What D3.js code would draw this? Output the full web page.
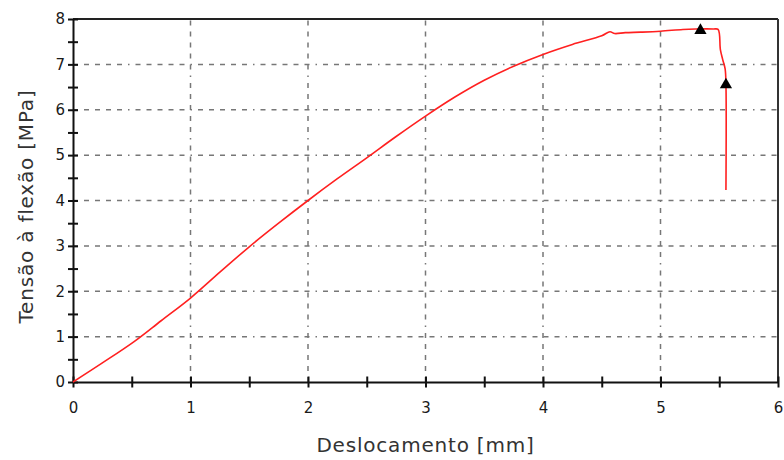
<!DOCTYPE html>
<html>
<head>
<meta charset="utf-8">
<script src="https://cdn.jsdelivr.net/npm/d3@7"></script>
<style>
  body { margin: 0; background: #fff; }
  text { font-family: "DejaVu Sans", Verdana, sans-serif; }
</style>
</head>
<body>
<svg id="chart"></svg>
<script>
// curve: displacement [mm] vs flexural stress [MPa]
const deslocamento = [0, 0.25, 0.52, 0.75, 1.0, 1.25, 1.5, 1.75, 2.0, 2.25, 2.5, 2.75, 3.0, 3.25, 3.5, 3.75,
    4.0, 4.25, 4.5, 4.57, 4.61, 4.7, 4.83, 5.0, 5.19, 5.3, 5.45, 5.49, 5.51, 5.53, 5.55, 5.557, 5.557];
const tensao = [0, 0.42, 0.89, 1.35, 1.85, 2.42, 2.98, 3.5, 4.0, 4.48, 4.94, 5.41, 5.86, 6.28, 6.65, 6.96,
    7.22, 7.44, 7.63, 7.72, 7.68, 7.70, 7.71, 7.73, 7.77, 7.78, 7.78, 7.77, 7.32, 7.10, 6.9, 6.55, 4.23];

// triangle markers
const markerX = [5.34, 5.557];
const markerY = [7.75, 6.55];

const xTicks = [0, 1, 2, 3, 4, 5, 6];
const yTicks = [0, 1, 2, 3, 4, 5, 6, 7, 8];
const xMinor = [0.5, 1.5, 2.5, 3.5, 4.5, 5.5];
const yMinor = [0.5, 1.5, 2.5, 3.5, 4.5, 5.5, 6.5, 7.5];

const xTitle = "Deslocamento [mm]";
const yTitle = "Tensão à flexão [MPa]";

let margin = { top: 19, right: 6, bottom: 78, left: 73 },
    width = 784 - margin.left - margin.right,
    height = 460 - margin.top - margin.bottom;

let svg = d3.select("#chart")
    .attr("width", 784)
    .attr("height", 460);

let g = svg.append("g")
    .attr("transform", "translate(" + margin.left + "," + margin.top + ")");

let xScale = d3.scaleLinear().domain([0, 6]).range([0, width]);
let yScale = d3.scaleLinear().domain([0, 8]).range([height, 0]);

const dash = "5,6,5,6,5,6,5,6,5,6,1.5,6";

// grid
g.append("g").selectAll("line")
    .data(yTicks.slice(1, -1))
    .enter().append("line")
    .attr("x1", 0).attr("x2", width)
    .attr("y1", d => yScale(d)).attr("y2", d => yScale(d))
    .attr("stroke", "#777").attr("stroke-width", 1.5)
    .attr("stroke-dasharray", dash);

g.append("g").selectAll("line")
    .data(xTicks.slice(1, -1))
    .enter().append("line")
    .attr("y1", height).attr("y2", 0)
    .attr("x1", d => xScale(d)).attr("x2", d => xScale(d))
    .attr("stroke", "#777").attr("stroke-width", 1.5)
    .attr("stroke-dasharray", dash);

// frame top / right
g.append("line").attr("x1", 0).attr("x2", width).attr("y1", 0).attr("y2", 0)
    .attr("stroke", "#222").attr("stroke-width", 2);
g.append("line").attr("x1", width).attr("x2", width).attr("y1", 0).attr("y2", height)
    .attr("stroke", "#333").attr("stroke-width", 2);

// axes: ticks cross the line on both sides
function styleAxis(sel) {
    sel.select(".domain").attr("stroke", "#111").attr("stroke-width", 2);
    sel.selectAll(".tick line").attr("stroke", "#111").attr("stroke-width", 2);
}

let xAxis = g.append("g")
    .attr("transform", "translate(0," + height + ")")
    .call(d3.axisBottom(xScale).tickValues(xTicks.concat(xMinor)).tickSizeInner(5.5).tickSizeOuter(0)
        .tickFormat(d => Number.isInteger(d) ? d : ""));
xAxis.selectAll(".tick line").attr("y1", -5.5);
xAxis.selectAll(".tick text").attr("y", 20).attr("font-size", 15).attr("fill", "#1a1a1a")
    .attr("font-family", "DejaVu Sans");
styleAxis(xAxis);

let yAxis = g.append("g")
    .call(d3.axisLeft(yScale).tickValues(yTicks.concat(yMinor)).tickSizeInner(5).tickSizeOuter(0)
        .tickFormat(d => Number.isInteger(d) ? d : ""));
yAxis.selectAll(".tick line").attr("x1", 5);
yAxis.selectAll(".tick text").attr("x", -8).attr("font-size", 15).attr("fill", "#1a1a1a")
    .attr("font-family", "DejaVu Sans");
styleAxis(yAxis);

// titles
g.append("text")
    .attr("x", width / 2).attr("y", height + 70)
    .attr("text-anchor", "middle")
    .attr("font-size", 20).attr("letter-spacing", 0.8).attr("fill", "#333")
    .text(xTitle);

g.append("text")
    .attr("transform", "translate(" + (-40) + "," + (height / 2 + 6) + ") rotate(-90)")
    .attr("text-anchor", "middle")
    .attr("font-size", 20).attr("letter-spacing", 0.8).attr("fill", "#333")
    .text(yTitle);

// curve
const pts = deslocamento.map((d, i) => [d, tensao[i]]);
g.append("path")
    .datum(pts)
    .attr("fill", "none")
    .attr("stroke", "#ff2020")
    .attr("stroke-width", 1.6)
    .attr("stroke-linejoin", "round")
    .attr("d", d3.line()
        .curve(d3.curveCatmullRom.alpha(0.5))
        .x(d => xScale(d[0]))
        .y(d => yScale(d[1])));

// markers
g.append("g").selectAll("path")
    .data(markerX.map((d, i) => [d, markerY[i]]))
    .enter().append("path")
    .attr("transform", d => "translate(" + xScale(d[0]) + "," + yScale(d[1]) + ")")
    .attr("d", d3.symbol().type(d3.symbolTriangle).size(65))
    .attr("fill", "#000");
</script>
</body>
</html>
